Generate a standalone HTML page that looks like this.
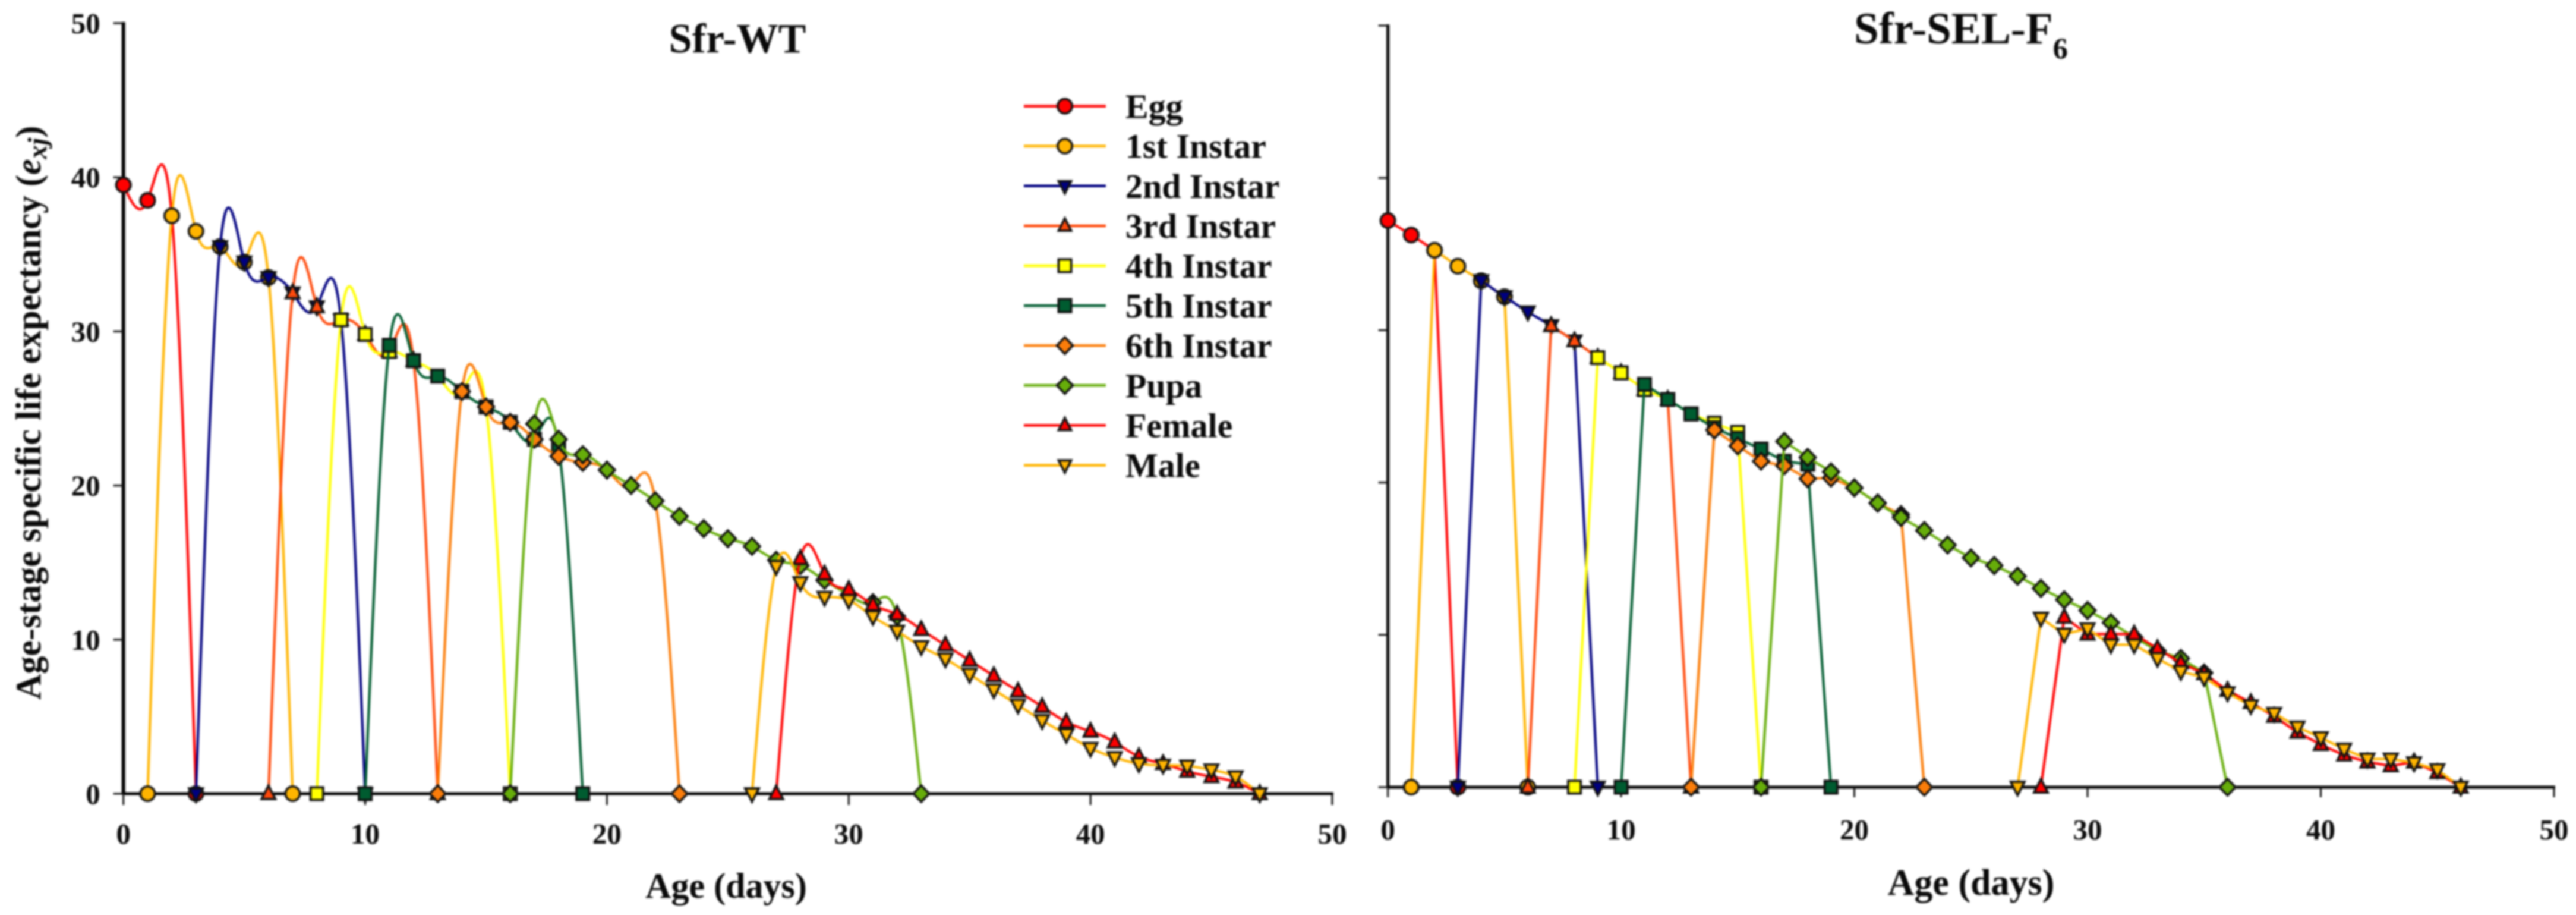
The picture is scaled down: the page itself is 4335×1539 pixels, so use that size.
<!DOCTYPE html>
<html lang="en">
<head>
<meta charset="utf-8">
<title>Age-stage specific life expectancy</title>
<style>
html,body{margin:0;padding:0;background:#fff;width:4335px;height:1539px;overflow:hidden}
svg{display:block;filter:blur(1.5px)}
text{font-family:"Liberation Serif",serif;font-weight:bold;fill:#0a0a0a}
</style>
</head>
<body>
<svg id="chart" xmlns="http://www.w3.org/2000/svg" width="4335" height="1539" viewBox="0 0 4335 1539">
  <rect x="0" y="0" width="4335" height="1539" fill="#fff"/>
  <g id="wt-panel"></g>
  <g id="sel-panel"></g>
  <text x="1241" y="88" font-size="70" text-anchor="middle">Sfr-WT</text>
  <text x="3120" y="73" font-size="75">Sfr-SEL-F<tspan font-size="50" dy="25">6</tspan></text>
  <text x="1222" y="1510" font-size="60" text-anchor="middle">Age (days)</text>
  <text x="3317" y="1505" font-size="62" text-anchor="middle">Age (days)</text>
  <text transform="translate(68,1177) rotate(-90)" font-size="60">Age-stage specific life expectancy (<tspan font-style="italic">e</tspan><tspan font-style="italic" font-size="46" dy="10">xj</tspan><tspan dy="-10">)</tspan></text>
  <g id="legend"></g>
</svg>
<script>
const seriesNames = ['Egg','1st Instar','2nd Instar','3rd Instar','4th Instar','5th Instar','6th Instar','Pupa','Female','Male'];
const seriesColors = ['#ff0000','#ffb400','#000080','#ff4a0c','#ffff00','#005c30','#fb7d0a','#66ad0a','#ff0000','#ffb400'];
const seriesShapes = ['circle','circle','down','up','square','square','diamond','diamond','up','down'];
const xTickLabels = [0,10,20,30,40,50];
const yTickLabels = [0,10,20,30,40,50];

const wtStartAges = [0,1,3,6,8,10,13,16,27,26];
const wtEgg = [39.5,38.5,37.5,0];
const wtFirst = [0,37.5,36.5,35.5,34.5,33.5,0];
const wtSecond = [0,35.5,34.5,33.5,32.5,31.6,30.75,0];
const wtThird = [0,32.5,31.6,30.75,29.8,28.7,28.1,0];
const wtFourth = [0,30.75,29.8,28.7,28.1,27.1,26.1,25.1,0];
const wtFifth = [0,29.1,28.1,27.1,26.1,25.1,24.1,23,22.5,0];
const wtSixth = [0,26.1,25.1,24.1,23,21.9,21.5,21,20,19,0];
const wtPupa = [0,24,23,22,21,20,19,18,17.2,16.55,16.05,15.15,14.8,13.85,12.9,12.4,11.5,0];
const wtFemale = [0,15.25,14.25,13.25,12.25,11.65,10.65,9.65,8.65,7.65,6.65,5.65,4.65,4.05,3.35,2.4,1.95,1.45,1.1,0.75,0];
const wtMale = [0,14.75,13.7,12.75,12.55,11.5,10.55,9.55,8.75,7.75,6.75,5.75,4.75,3.85,2.95,2.35,1.95,1.85,1.8,1.55,1.1,0];

const selStartAges = [0,1,3,6,8,10,13,16,28,27];
const selEgg = [37.2,36.25,35.25,0];
const selFirst = [0,35.25,34.2,33.25,32.2,0];
const selSecond = [0,33.25,32.2,31.2,30.3,29.3,0];
const selThird = [0,30.3,29.3,28.2,27.2,26.1,25.45,0];
const selFourth = [0,28.2,27.2,26.1,25.45,24.5,23.9,23.3,0];
const selFifth = [0,26.45,25.45,24.5,23.6,22.9,22.2,21.4,21.2,0];
const selSixth = [0,23.45,22.4,21.4,21.1,20.25,20.3,19.65,18.65,17.9,0];
const selPupa = [0,22.7,21.65,20.7,19.65,18.65,17.7,16.85,15.9,15.05,14.55,13.85,13.05,12.3,11.6,10.8,9.85,8.95,8.45,7.5,0];
const selFemale = [0,11.15,10.05,10.05,10.05,9.1,8.15,7.45,6.35,5.55,4.65,3.6,2.8,2.1,1.65,1.4,1.65,0.95,0];
const selMale = [0,11.1,10.05,10.4,9.35,9.35,8.45,7.6,7.2,6.2,5.35,4.85,3.95,3.25,2.5,1.85,1.85,1.6,1.15,0];

const NS = 'http://www.w3.org/2000/svg';
const INK = '#111';

function node(tag, parent, attrs) {
  const el = document.createElementNS(NS, tag);
  for (const k in attrs) el.setAttribute(k, attrs[k]);
  parent.appendChild(el);
  return el;
}

function splinePath(ages, vals, sx, sy) {
  const n = vals.length;
  const c = new Array(n).fill(0), d = new Array(n).fill(0), m = new Array(n).fill(0);
  for (let i = 1; i < n - 1; i++) {
    const rhs = 6 * (vals[i + 1] - 2 * vals[i] + vals[i - 1]);
    const w = 4 - c[i - 1];
    c[i] = 1 / w;
    d[i] = (rhs - d[i - 1]) / w;
  }
  for (let i = n - 2; i > 0; i--) m[i] = d[i] - c[i] * m[i + 1];
  let p = 'M' + sx(ages[0]) + ' ' + sy(vals[0]);
  for (let i = 0; i < n - 1; i++) {
    const diff = vals[i + 1] - vals[i];
    const s0 = diff - (2 * m[i] + m[i + 1]) / 6;
    const s1 = diff + (m[i] + 2 * m[i + 1]) / 6;
    p += 'C' + sx(ages[i] + 1 / 3) + ' ' + sy(vals[i] + s0 / 3) + ' ' +
         sx(ages[i + 1] - 1 / 3) + ' ' + sy(vals[i + 1] - s1 / 3) + ' ' +
         sx(ages[i + 1]) + ' ' + sy(vals[i + 1]);
  }
  return p;
}

function straightPath(ages, vals, sx, sy) {
  return ages.map((a, i) => (i ? 'L' : 'M') + sx(a) + ' ' + sy(vals[i])).join('');
}

function drawMarker(parent, shape, cx, cy, fill, triScale) {
  const st = {fill: fill, stroke: INK, 'stroke-width': 3.7, 'stroke-linejoin': 'miter'};
  const k = triScale || 1;
  let el;
  if (shape === 'circle') {
    el = node('circle', parent, Object.assign({cx: cx, cy: cy, r: 12.2}, st));
  } else if (shape === 'square') {
    el = node('rect', parent, Object.assign({x: cx - 10.7, y: cy - 10.7, width: 21.4, height: 21.4}, st));
  } else if (shape === 'diamond') {
    el = node('polygon', parent, Object.assign({points: [cx, cy - 14, cx + 13.5, cy, cx, cy + 14, cx - 13.5, cy].join(' ')}, st));
  } else if (shape === 'up') {
    el = node('polygon', parent, Object.assign({points: [cx, cy - 11.5 * k, cx + 9.7 * k, cy + 7.5 * k, cx - 9.7 * k, cy + 7.5 * k].join(' ')}, st));
  } else {
    el = node('polygon', parent, Object.assign({points: [cx - 9.7 * k, cy - 7.5 * k, cx + 9.7 * k, cy - 7.5 * k, cx, cy + 11.5 * k].join(' ')}, st));
  }
  return el;
}

function drawPanel(cfg) {
  const g = document.getElementById(cfg.id);
  const sx = a => cfg.x0 + (a / 50) * (cfg.x50 - cfg.x0);
  const sy = v => cfg.y0 - (v / 50) * (cfg.y0 - cfg.y50);

  const yAxis = node('line', g, {x1: sx(0), x2: sx(0), y1: sy(50) - 2, y2: sy(0) + 2, stroke: '#000', 'stroke-width': cfg.yw});
  
  
  const xAxis = node('line', g, {x1: sx(0), x2: sx(50) + 2, y1: sy(0), y2: sy(0), stroke: '#000', 'stroke-width': 5});
  
  

  yTickLabels.forEach(v => {
    const t = node('line', g, {x1: sx(0) - cfg.yTickLen, x2: sx(0), y1: sy(v), y2: sy(v), stroke: '#111', 'stroke-width': 3});
    
    
    if (cfg.showY) {
      const l = node('text', g, {x: sx(0) - 39, y: sy(v) + 17, 'font-size': 49, 'text-anchor': 'end'});
      
      
      l.textContent = v;
    }
  });
  xTickLabels.forEach(v => {
    const t = node('line', g, {x1: sx(v), x2: sx(v), y1: sy(0), y2: sy(0) + cfg.xTickLen, stroke: '#111', 'stroke-width': 3});
    
    
    const l = node('text', g, {x: sx(v), y: cfg.xLabelY, 'font-size': 49, 'text-anchor': 'middle'});
    
    
    l.textContent = v;
  });

  cfg.series.forEach((vals, s) => {
    const ages = vals.map((_, i) => cfg.starts[s] + i);
    const sg = node('g', g, {});
    
    
    const path = cfg.smooth ? splinePath(ages, vals, sx, sy) : straightPath(ages, vals, sx, sy);
    const line = node('path', sg, {d: path, fill: 'none', stroke: seriesColors[s], 'stroke-width': 4.2, 'stroke-linejoin': 'round'});
    
    
    ages.forEach((a, i) => {
      const mk = drawMarker(sg, seriesShapes[s], sx(a), sy(vals[i]), seriesColors[s], cfg.triScale);
      
      
    });
  });
}

drawPanel({
  id: 'wt-panel', prefix: 'wt', x0: 207.7, x50: 2242, y0: 1335, y50: 39, yw: 6,
  yTickLen: 17, xTickLen: 19, xLabelY: 1419, showY: true, smooth: true, triScale: 1.2,
  starts: wtStartAges,
  series: [wtEgg, wtFirst, wtSecond, wtThird, wtFourth, wtFifth, wtSixth, wtPupa, wtFemale, wtMale]
});
drawPanel({
  id: 'sel-panel', prefix: 'sel', x0: 2335.6, x50: 4298, y0: 1324, y50: 43, yw: 5,
  yTickLen: 16, xTickLen: 17, xLabelY: 1412, showY: false, smooth: false, triScale: 1.2,
  starts: selStartAges,
  series: [selEgg, selFirst, selSecond, selThird, selFourth, selFifth, selSixth, selPupa, selFemale, selMale]
});

const legend = document.getElementById('legend');
seriesNames.forEach((name, s) => {
  const rowY = 178.6 + s * 67.1;
  const row = node('g', legend, {});
  
  
  node('line', row, {x1: 1723, x2: 1861, y1: rowY, y2: rowY, stroke: seriesColors[s], 'stroke-width': 4.5});
  drawMarker(row, seriesShapes[s], 1792, rowY, seriesColors[s], 1.1);
  const label = node('text', row, {x: 1894, y: rowY + 20, 'font-size': 58});
  
  
  label.textContent = name;
});
</script>
</body>
</html>
